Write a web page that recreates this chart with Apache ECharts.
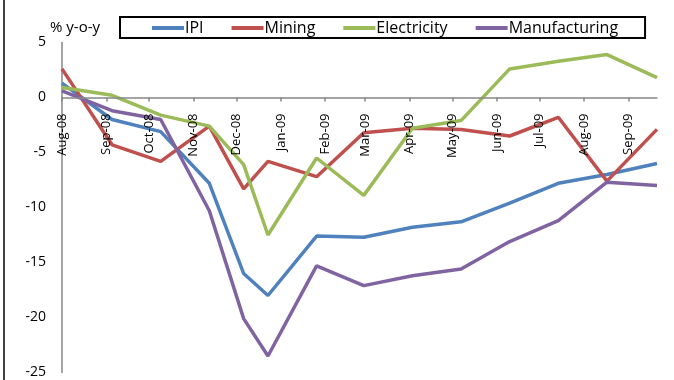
<!DOCTYPE html>
<html>
<head>
<meta charset="utf-8">
<script src="https://cdn.jsdelivr.net/npm/echarts@6/dist/echarts.min.js"></script>
<style>
  html, body { margin: 0; padding: 0; background: #fff; }
  #chart { width: 674px; height: 380px; }
</style>
</head>
<body>
<div id="chart"></div>
<script>
// observation dates (the points are not evenly spaced in the source)
const dates = [
  "2008-08-01", "2008-09-05", "2008-10-09", "2008-11-12", "2008-12-06",
  "2008-12-23", "2009-01-26", "2009-02-28", "2009-04-03", "2009-05-07",
  "2009-06-10", "2009-07-14", "2009-08-17", "2009-09-21"
];

// % y-o-y
const ipi           = [1.3, -2.0, -3.1, -7.8, -16.0, -18.0, -12.6, -12.7, -11.8, -11.3, -9.6, -7.8, -7.0, -6.0];
const mining        = [2.6, -4.3, -5.8, -2.6, -8.3, -5.8, -7.2, -3.2, -2.8, -2.9, -3.5, -1.8, -7.6, -2.9];
const electricity   = [0.9, 0.2, -1.6, -2.6, -6.1, -12.5, -5.5, -8.9, -2.8, -2.1, 2.6, 3.3, 3.9, 1.8];
const manufacturing = [0.6, -1.2, -2.0, -10.3, -20.1, -23.5, -15.3, -17.1, -16.2, -15.6, -13.1, -11.2, -7.7, -8.0];

// x axis: monthly ticks, labelled like "Aug-08"
const monthNames = ["Jan", "Feb", "Mar", "Apr", "May", "Jun", "Jul", "Aug", "Sep", "Oct", "Nov", "Dec"];
const axisStart = "2008-08-01";

const FONT = "'Open Sans', 'Liberation Sans', Arial, sans-serif";
const AXIS_GREY = "#868686";
const DAY = 86400000;

// grid box; the x axis is lifted from the bottom edge up to y = 0
const GRID_TOP = 42.5;
const GRID_BOTTOM = 7.5;
const PLOT_H = 380 - GRID_TOP - GRID_BOTTOM;
const Y_MIN = -25, Y_MAX = 5;
const zeroOffset = -PLOT_H * (0 - Y_MIN) / (Y_MAX - Y_MIN);

const toTime = (s) => {
  const [y, m, d] = s.split("-").map(Number);
  return new Date(y, m - 1, d).getTime();
};

const monthLabel = (v) => {
  const d = new Date(v);
  return monthNames[d.getMonth()] + "-" + String(d.getFullYear()).slice(2);
};

const pairs = (vals) => dates.map((d, i) => [toTime(d), vals[i]]);

const makeLine = (name, vals, color) => ({
  name,
  type: "line",
  data: pairs(vals),
  symbol: "none",
  itemStyle: { color },
  lineStyle: { color, width: 3.5 },
});

const myChart = echarts.init(document.getElementById("chart"), null, { renderer: "canvas" });

const option = {
  animation: false,
  textStyle: { fontFamily: FONT },
  legend: {
    left: 120,
    top: 17,
    padding: [3, 27, 2, 32],
    itemGap: 28,
    itemWidth: 32,
    itemHeight: 4,
    icon: "rect",
    borderColor: "#000",
    borderWidth: 2,
    textStyle: { fontFamily: FONT, fontSize: 16, color: "#000", padding: [0, 0, 0, -4] },
    data: ["IPI", "Mining", "Electricity", "Manufacturing"],
  },
  grid: {
    left: 62,
    right: 17,
    top: GRID_TOP,
    bottom: GRID_BOTTOM,
  },
  xAxis: {
    type: "time",
    position: "bottom",
    offset: zeroOffset,
    z: 5,
    min: toTime(axisStart),
    max: toTime(dates[dates.length - 1]),
    minInterval: 28 * DAY,
    maxInterval: 31 * DAY,
    axisLine: { onZero: false, lineStyle: { color: AXIS_GREY, width: 1.5 } },
    axisTick: {
      show: true,
      length: 4,
      lineStyle: { color: AXIS_GREY, width: 1.5 },
    },
    axisLabel: {
      rotate: 90,
      margin: 16,
      fontFamily: FONT,
      fontSize: 13,
      fontWeight: "normal",
      color: "#000",
      formatter: (v) => monthLabel(v),
    },
    splitLine: { show: false },
  },
  yAxis: {
    type: "value",
    min: Y_MIN,
    max: Y_MAX,
    interval: 5,
    name: "% y-o-y",
    nameLocation: "end",
    nameGap: 7,
    nameTextStyle: {
      fontFamily: FONT,
      fontSize: 15,
      color: "#000",
      align: "left",
      padding: [0, 0, 0, -12],
    },
    axisLine: { show: true, lineStyle: { color: AXIS_GREY, width: 1.5 } },
    axisTick: { show: false },
    axisLabel: { fontFamily: FONT, fontSize: 14, color: "#000", margin: 16 },
    splitLine: { show: false },
  },
  graphic: [
    {
      type: "line",
      shape: { x1: 4, y1: 0, x2: 4, y2: 380 },
      style: { stroke: "#000", lineWidth: 1.5 },
      silent: true,
    },
  ],
  series: [
    makeLine("IPI", ipi, "#4F81BD"),
    makeLine("Mining", mining, "#C0504D"),
    makeLine("Electricity", electricity, "#9BBB59"),
    makeLine("Manufacturing", manufacturing, "#8064A2"),
  ],
};

myChart.setOption(option);
</script>
</body>
</html>
